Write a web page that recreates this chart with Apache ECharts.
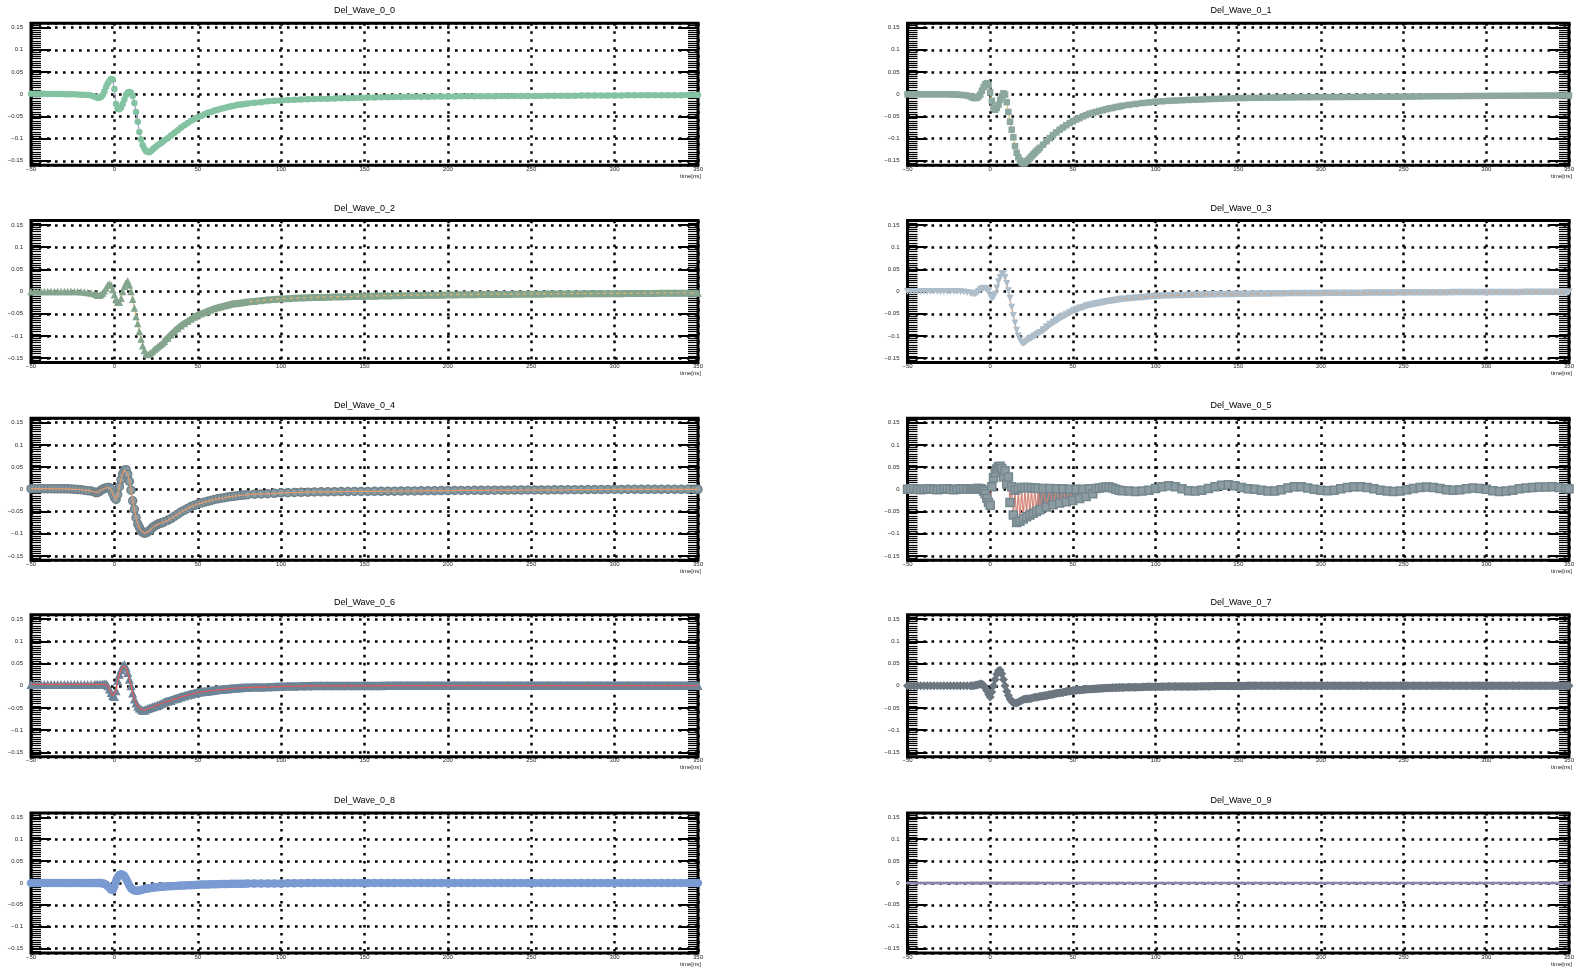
<!DOCTYPE html>
<html>
<head>
<meta charset="utf-8">
<title>Del_Wave_0</title>
<script src="https://cdn.jsdelivr.net/npm/echarts@6/dist/echarts.min.js"></script>
<style>
  html, body { margin: 0; padding: 0; background: #fff; }
  #chart { width: 1577px; height: 967px; }
</style>
</head>
<body>
<div id="chart"></div>
<script>
// ---------------------------------------------------------------------------
// Sample times [ns] shared by every waveform
// ---------------------------------------------------------------------------
const TIME = [
  -50,-48,-46,-44,-42,-40,-38,-36,-34,-32,-30,-28,-26,-24,-22,-20,-18,-16,-14,-12,
  -11,-10,-9,-8,-7,-6,-5,-4,-3,-2,-1,0,1,2,3,4,5,6,7,8,9,10,11,12,13,14,15,16,17,18,19,20,21,22,23,24,25,26,27,28,29,30,
  32,34,36,38,40,42,44,46,48,50,52,54,56,58,60,62,64,66,68,70,72,74,76,78,80,
  84,88,92,96,100,104,108,112,116,120,124,128,132,136,140,144,148,152,156,160,164,168,172,176,180,184,188,192,196,200,
  204,208,212,216,220,224,228,232,236,240,244,248,252,256,260,264,268,272,276,280,284,288,292,296,300,304,308,312,316,320,
  324,328,332,336,340,344,348,350
];

// Waveform amplitudes, one value per entry of TIME
const WAVE_0_0 = [
  0.001,0.001,0.001,0.001,0.001,0.0005,0.0005,0.0005,0.0005,0.0005,0,0,0,0,-0.0005,-0.001,-0.001,-0.002,-0.003,-0.005,
  -0.007,-0.008,-0.008,-0.006,-0.002,0.006,0.016,0.024,0.030,0.034,
  0.033,0.012,-0.022,-0.033,-0.034,-0.030,-0.022,-0.012,-0.002,0.004,
  0.005,0.003,-0.004,-0.020,-0.040,-0.062,-0.085,-0.102,-0.115,-0.123,
  -0.128,-0.130,-0.131,-0.128,-0.124,-0.121,-0.118,-0.115,-0.112,-0.110,
  -0.107,-0.104,
  -0.099,-0.093,-0.087,-0.081,-0.075,-0.070,-0.065,-0.060,-0.056,-0.052,
  -0.049,-0.045,-0.042,-0.040,-0.037,-0.035,-0.033,-0.031,-0.029,-0.027,
  -0.026,-0.024,-0.023,-0.022,-0.021,
  -0.019,-0.018,-0.016,-0.015,-0.014,-0.013,-0.0125,-0.012,-0.0115,-0.011,
  -0.0105,-0.010,-0.0097,-0.0093,-0.009,-0.0085,-0.008,-0.0076,-0.0072,-0.007,
  -0.0067,-0.0064,-0.0062,-0.006,-0.0058,-0.0056,-0.0055,-0.0053,-0.0052,-0.005,
  -0.005,-0.0049,-0.0048,-0.0047,-0.0046,-0.0045,-0.0044,-0.0043,-0.0042,-0.0041,
  -0.004,-0.004,-0.0039,-0.0038,-0.0037,-0.0036,-0.0035,-0.0034,-0.0033,-0.0032,
  -0.0031,-0.003,-0.003,-0.0029,-0.0028,-0.0027,-0.0026,-0.0025,-0.0024,-0.0023,
  -0.0023,-0.0022,-0.0022,-0.0021,-0.0021,-0.002,-0.002,-0.002
];

const WAVE_0_1 = [
  0,0,0,0,0,0,0,0,0,0,0,0,0,-0.0005,-0.0005,-0.001,-0.0015,-0.002,-0.003,-0.005,
  -0.007,-0.008,-0.009,-0.008,-0.005,-0.001,0.008,0.016,0.022,0.025,
  0.020,0.004,-0.015,-0.030,-0.035,-0.031,-0.024,-0.013,-0.005,0.002,
  -0.001,-0.018,-0.040,-0.062,-0.080,-0.097,-0.117,-0.132,-0.142,-0.149,
  -0.154,-0.156,-0.155,-0.151,-0.148,-0.144,-0.140,-0.136,-0.132,-0.128,
  -0.125,-0.121,
  -0.114,-0.106,-0.099,-0.092,-0.086,-0.080,-0.075,-0.070,-0.065,-0.061,
  -0.057,-0.054,-0.050,-0.047,-0.044,-0.042,-0.040,-0.038,-0.036,-0.034,
  -0.032,-0.031,-0.029,-0.028,-0.026,
  -0.024,-0.022,-0.020,-0.0185,-0.017,-0.016,-0.015,-0.0143,-0.0136,-0.013,
  -0.0124,-0.0118,-0.0112,-0.0106,-0.010,-0.0096,-0.0092,-0.0088,-0.0085,-0.0082,
  -0.008,-0.0078,-0.0076,-0.0074,-0.0072,-0.0071,-0.007,-0.0069,-0.0068,-0.0067,
  -0.0066,-0.0065,-0.0064,-0.0063,-0.0062,-0.0061,-0.006,-0.0059,-0.0058,-0.0057,
  -0.0056,-0.0055,-0.0054,-0.0052,-0.005,-0.0049,-0.0047,-0.0046,-0.0045,-0.0044,
  -0.0043,-0.0042,-0.004,-0.0039,-0.0038,-0.0037,-0.0036,-0.0035,-0.0034,-0.0033,
  -0.0032,-0.0032,-0.0031,-0.0031,-0.003,-0.003,-0.003,-0.003
];

const WAVE_0_2 = [
  0,0,0,0,0,0,0,0,0,0,0,0,0,0,0,-0.0005,-0.001,-0.002,-0.003,-0.004,
  -0.006,-0.008,-0.008,-0.006,-0.003,0.002,0.008,0.015,0.017,0.015,
  0.005,-0.007,-0.017,-0.024,-0.024,-0.015,0.000,0.012,0.020,0.024,
  0.015,0.000,-0.017,-0.037,-0.056,-0.072,-0.090,-0.107,-0.122,-0.133,
  -0.140,-0.142,-0.140,-0.137,-0.134,-0.130,-0.127,-0.124,-0.121,-0.118,
  -0.115,-0.112,
  -0.105,-0.097,-0.090,-0.083,-0.077,-0.072,-0.067,-0.062,-0.057,-0.053,
  -0.050,-0.047,-0.044,-0.041,-0.038,-0.036,-0.034,-0.032,-0.030,-0.028,
  -0.027,-0.026,-0.025,-0.024,-0.023,
  -0.0215,-0.020,-0.0185,-0.017,-0.016,-0.0153,-0.0146,-0.014,-0.0135,-0.013,
  -0.0126,-0.0122,-0.0118,-0.0114,-0.011,-0.0107,-0.0104,-0.0101,-0.0098,-0.0095,
  -0.0092,-0.009,-0.0087,-0.0085,-0.0082,-0.008,-0.0078,-0.0076,-0.0074,-0.0072,
  -0.007,-0.0068,-0.0066,-0.0064,-0.0062,-0.006,-0.0059,-0.0058,-0.0057,-0.0056,
  -0.0055,-0.0054,-0.0053,-0.0052,-0.0051,-0.005,-0.0049,-0.0048,-0.0047,-0.0046,
  -0.0045,-0.0044,-0.0043,-0.0042,-0.0041,-0.004,-0.0039,-0.0038,-0.0037,-0.0036,
  -0.0035,-0.0034,-0.0033,-0.0032,-0.0032,-0.0031,-0.003,-0.003
];

const WAVE_0_3 = [
  0,0,0,0,0,0,0,0,0,0,0,0,0,0,0,0,-0.0005,-0.001,-0.002,-0.003,
  -0.004,-0.005,-0.005,-0.003,0.000,0.004,0.006,0.0075,0.007,0.005,
  0.000,-0.010,-0.015,-0.013,-0.006,0.008,0.022,0.032,0.040,0.041,
  0.032,0.018,0.002,-0.015,-0.035,-0.054,-0.071,-0.087,-0.100,-0.109,
  -0.115,-0.117,-0.115,-0.112,-0.109,-0.107,-0.105,-0.102,-0.100,-0.0975,
  -0.095,-0.092,
  -0.086,-0.080,-0.0735,-0.069,-0.064,-0.059,-0.055,-0.051,-0.047,-0.043,
  -0.040,-0.037,-0.035,-0.032,-0.030,-0.0285,-0.027,-0.0255,-0.024,-0.0225,
  -0.021,-0.020,-0.019,-0.0175,-0.0165,
  -0.015,-0.0138,-0.0125,-0.0112,-0.010,-0.0095,-0.009,-0.0085,-0.008,-0.0075,
  -0.0072,-0.0069,-0.0066,-0.0063,-0.006,-0.0058,-0.0056,-0.0054,-0.0052,-0.005,
  -0.0048,-0.0046,-0.0044,-0.0042,-0.004,-0.0039,-0.0038,-0.0037,-0.0036,-0.0035,
  -0.0034,-0.0033,-0.0032,-0.0031,-0.003,-0.0029,-0.0028,-0.0027,-0.0026,-0.0025,
  -0.0024,-0.0023,-0.0022,-0.0021,-0.002,-0.002,-0.0019,-0.0018,-0.0018,-0.0017,
  -0.0016,-0.0016,-0.0015,-0.0015,-0.0014,-0.0014,-0.0013,-0.0013,-0.0012,-0.0012,
  -0.0011,-0.0011,-0.001,-0.001,-0.001,-0.001,-0.001,-0.001
];

const WAVE_0_4 = [
  0.0015,0.0015,0.0015,0.0015,0.0015,0.0015,0.0015,0.001,0.001,0.001,0.001,0.001,0.0005,0,-0.0005,-0.001,-0.002,-0.003,-0.004,-0.006,
  -0.0075,-0.007,-0.005,-0.002,0.000,0.002,0.003,0.004,0.004,0.000,
  -0.009,-0.018,-0.023,-0.012,0.006,0.022,0.035,0.043,0.044,0.034,
  0.018,-0.002,-0.026,-0.045,-0.064,-0.078,-0.086,-0.093,-0.097,-0.099,
  -0.098,-0.096,-0.093,-0.090,-0.086,-0.083,-0.081,-0.079,-0.077,-0.076,
  -0.075,-0.073,
  -0.070,-0.066,-0.061,-0.056,-0.051,-0.047,-0.043,-0.039,-0.036,-0.033,
  -0.031,-0.029,-0.027,-0.025,-0.023,-0.0215,-0.020,-0.019,-0.0175,-0.0165,
  -0.0155,-0.0145,-0.0135,-0.0128,-0.012,
  -0.011,-0.0104,-0.0098,-0.009,-0.008,-0.0076,-0.0072,-0.0068,-0.0064,-0.006,
  -0.0058,-0.0056,-0.0054,-0.0052,-0.005,-0.0049,-0.0048,-0.0047,-0.0046,-0.0045,
  -0.0044,-0.0042,-0.004,-0.0038,-0.0036,-0.0034,-0.0032,-0.003,-0.0029,-0.0028,
  -0.0027,-0.0026,-0.0025,-0.0024,-0.0023,-0.0022,-0.0021,-0.002,-0.0019,-0.0018,
  -0.0017,-0.0016,-0.0015,-0.0014,-0.0013,-0.0012,-0.0011,-0.001,-0.0009,-0.0008,
  -0.0007,-0.0006,-0.0005,-0.0004,-0.0003,-0.0002,-0.0001,0,0,0,
  0,0,0,0,0,0,0,0
];

const WAVE_0_5 = [
  0,0.001,0.001,0,-0.001,0,0.001,0.001,0,-0.001,0,0.001,0.001,0,-0.001,0,0.001,0.001,0.001,0,
  0.000,0.001,0.001,0.002,0.002,0.001,0.000,-0.004,-0.010,-0.020,
  -0.030,-0.036,0.006,0.026,0.038,0.046,0.051,0.052,0.047,0.028,
  0.042,0.012,0.028,-0.030,0.006,-0.058,-0.002,-0.075,0.002,-0.072,
  0.004,-0.067,0.004,-0.062,0.004,-0.058,0.003,-0.054,0.003,-0.050,
  0.002,-0.046,
  0.002,-0.040,0.002,-0.035,0.001,-0.031,0.001,-0.028,0.000,-0.025,
  0.000,-0.021,0.000,-0.016,0.001,-0.010,0.002,0.003,0.004,0.005,
  0.005,0.003,0.000,-0.002,-0.003,
  -0.004,-0.005,-0.004,-0.002,0.002,0.006,0.008,0.006,0.001,-0.003,
  -0.004,-0.002,0.002,0.006,0.009,0.010,0.008,0.004,0.001,0.000,
  -0.002,-0.004,-0.004,-0.001,0.003,0.006,0.006,0.003,0.000,-0.002,
  -0.003,-0.002,0.001,0.004,0.006,0.006,0.004,0.001,-0.002,-0.004,
  -0.005,-0.004,-0.001,0.002,0.004,0.005,0.004,0.002,-0.001,-0.002,
  -0.001,0.001,0.003,0.002,0.000,-0.003,-0.005,-0.004,-0.002,0.001,
  0.003,0.004,0.005,0.005,0.006,0.004,0.002,0.001
];

const WAVE_0_6 = [
  0.003,0.003,0.003,0.003,0.003,0.003,0.003,0.003,0.003,0.003,0.003,0.003,0.003,0.003,0.003,0.003,0.003,0.003,0.003,0.003,
  0.003,0.003,0.003,0.003,0.004,0.004,0.004,0.000,-0.007,-0.015,
  -0.022,-0.024,-0.011,0.012,0.026,0.036,0.044,0.048,0.042,0.030,
  0.015,0.000,-0.016,-0.030,-0.039,-0.046,-0.050,-0.053,-0.055,-0.055,
  -0.053,-0.051,-0.050,-0.049,-0.047,-0.046,-0.045,-0.043,-0.042,-0.040,
  -0.039,-0.037,
  -0.035,-0.033,-0.030,-0.028,-0.025,-0.023,-0.021,-0.019,-0.017,-0.015,
  -0.014,-0.013,-0.012,-0.011,-0.010,-0.009,-0.0085,-0.008,-0.007,-0.006,
  -0.0055,-0.005,-0.0045,-0.004,-0.004,
  -0.0035,-0.003,-0.0027,-0.0022,-0.0015,-0.0012,-0.001,-0.0007,-0.0003,0,
  0,0,0,0,0,0,0,0,0,0,
  0.0005,0.0005,0.0005,0.0005,0.0005,0.0005,0.0005,0.0005,0.0005,0.0005,
  0.0005,0.0005,0.0005,0.0005,0.0005,0.0005,0.0005,0.0005,0.0005,0.0005,
  0.0005,0.0005,0.0005,0.0005,0.0005,0.0005,0.0005,0.0005,0.0005,0.0005,
  0.0005,0.0005,0.0005,0.0005,0.0005,0.0005,0.0005,0.0005,0.0005,0.0005,
  0.0005,0.0005,0.0005,0.0005,0.0005,0.0005,0.0005,0.0005
];

const WAVE_0_7 = [
  0,0,0,0,0,0,0,0,0,0,0,0,0,0,0,0,0,0,0,0,
  0,0,0.001,0.002,0.003,0.004,0.004,0.001,-0.005,-0.011,
  -0.019,-0.025,-0.014,0.000,0.014,0.026,0.034,0.035,0.027,0.014,
  0.000,-0.012,-0.022,-0.030,-0.035,-0.038,-0.039,-0.039,-0.037,-0.035,
  -0.033,-0.031,-0.030,-0.030,-0.029,-0.029,-0.028,-0.027,-0.026,-0.026,
  -0.025,-0.024,
  -0.023,-0.022,-0.020,-0.019,-0.017,-0.016,-0.015,-0.013,-0.012,-0.011,
  -0.010,-0.0095,-0.009,-0.008,-0.0075,-0.007,-0.0065,-0.006,-0.0055,-0.005,
  -0.0048,-0.0045,-0.0042,-0.004,-0.004,
  -0.0035,-0.003,-0.0027,-0.0023,-0.002,-0.0019,-0.0018,-0.0017,-0.0016,-0.0015,
  -0.0013,-0.0011,-0.0009,-0.0007,-0.0005,-0.0004,-0.0003,-0.0002,-0.0001,0,
  0,0,0,0,0,0,0,0,0,0,
  0,0,0,0,0,0,0,0,0,0,
  0,0,0,0,0,0,0,0,0,0,
  0,0,0,0,0,0,0,0,0,0,
  0,0,0,0,0,0,0,0
];

const WAVE_0_8 = [
  0,0,0,0,0,0,0,0,0,0,0,0,0,0,0,0,0,0,0,0,
  0,0,0,0,-0.001,-0.002,-0.004,-0.007,-0.011,-0.015,
  -0.016,-0.008,0.004,0.013,0.018,0.020,0.019,0.016,0.009,0.002,
  -0.006,-0.012,-0.015,-0.017,-0.018,-0.018,-0.017,-0.016,-0.015,-0.014,
  -0.013,-0.012,-0.012,-0.011,-0.011,-0.010,-0.010,-0.0095,-0.009,-0.0088,
  -0.0085,-0.008,
  -0.0078,-0.0075,-0.007,-0.0065,-0.006,-0.0057,-0.0053,-0.005,-0.0045,-0.004,
  -0.0038,-0.0036,-0.0034,-0.0032,-0.003,-0.0028,-0.0026,-0.0024,-0.0022,-0.002,
  -0.0019,-0.0018,-0.0017,-0.0016,-0.0015,
  -0.0014,-0.0013,-0.0012,-0.0011,-0.001,-0.0008,-0.0006,-0.0004,-0.0002,0,
  0,0,0,0,0,0,0,0,0,0,
  0,0,0,0,0,0,0,0,0,0,
  0,0,0,0,0,0,0,0,0,0,
  0,0,0,0,0,0,0,0,0,0,
  0,0,0,0,0,0,0,0,0,0,
  0,0,0,0,0,0,0,0
];

const WAVE_0_9 = [
  0,0,0,0,0,0,0,0,0,0,0,0,0,0,0,0,0,0,0,0,
  0,0,0,0,0,0,0,0,0,0,0,0,0,0,0,0,0,0,0,0,0,0,0,0,0,0,0,0,0,0,0,0,0,0,0,0,0,0,0,0,0,0,
  0,0,0,0,0,0,0,0,0,0,0,0,0,0,0,0,0,0,0,0,0,0,0,0,0,
  0,0,0,0,0,0,0,0,0,0,0,0,0,0,0,0,0,0,0,0,0,0,0,0,0,0,0,0,0,0,0,0,0,0,
  0,0,0,0,0,0,0,0,0,0,0,0,0,0,0,0,0,0,0,0,0,0,0,0,0,0,0,0,0,0,0,0,0,0,0,0,0,0
];

const PANEL_TITLES = [
  'Del_Wave_0_0', 'Del_Wave_0_1', 'Del_Wave_0_2', 'Del_Wave_0_3', 'Del_Wave_0_4',
  'Del_Wave_0_5', 'Del_Wave_0_6', 'Del_Wave_0_7', 'Del_Wave_0_8', 'Del_Wave_0_9'
];
const PANEL_WAVES = [
  WAVE_0_0, WAVE_0_1, WAVE_0_2, WAVE_0_3, WAVE_0_4,
  WAVE_0_5, WAVE_0_6, WAVE_0_7, WAVE_0_8, WAVE_0_9
];

// Axis ranges
const X_MIN = -50, X_MAX = 350, X_STEP = 50;
const Y_MIN = -0.16, Y_MAX = 0.16, Y_MINOR = 0.005;
const X_NAME = 'time[ns]';

// ---------------------------------------------------------------------------
// Layout and appearance
// ---------------------------------------------------------------------------
const COL_LEFT = [31, 907.5];
const ROW_TOP = [23.2, 220.6, 418.3, 614.8, 812.9];
const GRID_W = 667, GRID_H = 142;
const FONT = '"Liberation Sans", Arial, Helvetica, sans-serif';
// beyond this time the markers sit on a solid band of the same colour
const BAND_FROM = 30;

// marker / line look of each pad
const LOOK = [
  { symbol: 'circle',   size: 6.5, fill: '#83c3a2', line: '#a4a0c6' },
  { symbol: 'rect',     size: 6.5, fill: '#8ba79f', line: '#dcc67a' },
  { symbol: 'triangle', size: 7.5, fill: '#84a58d', line: '#f0b46e' },
  { symbol: 'triangle', size: 7,   fill: '#adbdc9', line: '#d6a27e', rotate: 180 },
  { symbol: 'circle',   size: 8,   fill: '#8a9ca4', border: '#6f818a', borderWidth: 1.5, line: '#e59a6a', lineOnTop: true },
  { symbol: 'rect',     size: 8,   fill: '#8d9ca3', border: '#75878f', borderWidth: 1.5, line: '#d4867a' },
  { symbol: 'triangle', size: 9,   fill: '#6b8497', line: '#e25a5a', lineOnTop: true },
  { symbol: 'diamond',  size: 9,   fill: '#6b7680', line: '#7d6f7a' },
  { symbol: 'circle',   size: 8.5, fill: '#7a9ad2', line: '#6a8ac8' },
  { symbol: 'circle',   size: 3,   fill: '#8a88aa', line: '#8a88aa', lineWidth: 2.5, noBand: true }
];

const DOTTED = { color: '#000', width: 2.5, type: [2.6, 5.4] };
const LABEL_COLOR = '#262626';

function fmtY(v) {
  const k = Math.round(v / 0.05);
  if (Math.abs(v - k * 0.05) > 1e-6) return '';
  if (k === 0) return '0';
  const s = (Math.abs(k) * 0.05).toFixed(2).replace(/0$/, '');
  return (k < 0 ? '\u2212' : '') + s;
}
function fmtX(v) {
  return v < 0 ? '\u2212' + Math.abs(v) : String(v);
}

const grids = [], xAxes = [], yAxes = [], titles = [], series = [];

PANEL_TITLES.forEach((name, i) => {
  const r = Math.floor(i / 2), c = i % 2;
  const left = COL_LEFT[c], top = ROW_TOP[r];

  grids.push({
    left: left, top: top, width: GRID_W, height: GRID_H,
    show: true, borderColor: '#000', borderWidth: 3, backgroundColor: 'rgba(0,0,0,0)'
  });

  titles.push({
    text: name, left: left + GRID_W / 2, top: top - 17, textAlign: 'center', padding: 0,
    textStyle: { fontFamily: FONT, fontSize: 9, fontWeight: 'normal', color: '#000' }
  });

  xAxes.push({
    type: 'value', gridIndex: i, position: 'bottom', min: X_MIN, max: X_MAX, interval: X_STEP,
    axisLine: { show: false, onZero: false }, axisTick: { show: false },
    axisLabel: { fontFamily: FONT, fontSize: 6, color: LABEL_COLOR, margin: 1, formatter: fmtX },
    splitLine: { show: true, lineStyle: DOTTED },
    name: X_NAME, nameLocation: 'end', nameGap: 3,
    nameTextStyle: { fontFamily: FONT, fontSize: 6, color: LABEL_COLOR, align: 'right', verticalAlign: 'top', padding: [8, 0, 0, 0] }
  });

  const yBase = {
    type: 'value', gridIndex: i, min: Y_MIN, max: Y_MAX,
    axisLine: { show: false, onZero: false }, axisLabel: { show: false }, splitLine: { show: false }
  };
  // left: major ticks, labels and dotted grid
  yAxes.push(Object.assign({}, yBase, {
    position: 'left', splitNumber: 6,
    axisTick: { show: true, inside: true, length: 20, lineStyle: { color: '#000', width: 2 } },
    axisLabel: { show: true, fontFamily: FONT, fontSize: 6, color: LABEL_COLOR, margin: 8, formatter: fmtY },
    splitLine: { show: true, lineStyle: DOTTED }
  }));
  // left: fine ticks
  yAxes.push(Object.assign({}, yBase, {
    position: 'left', interval: Y_MINOR,
    axisTick: { show: true, inside: true, length: 10, lineStyle: { color: '#000', width: 1.2 } }
  }));
  // right: major ticks
  yAxes.push(Object.assign({}, yBase, {
    position: 'right', splitNumber: 6,
    axisTick: { show: true, inside: true, length: 20, lineStyle: { color: '#000', width: 2 } }
  }));
  // right: fine ticks
  yAxes.push(Object.assign({}, yBase, {
    position: 'right', interval: Y_MINOR,
    axisTick: { show: true, inside: true, length: 10, lineStyle: { color: '#000', width: 1.2 } }
  }));

  const look = LOOK[i];
  const wave = PANEL_WAVES[i];
  const pts = TIME.map((t, k) => [t, wave[k]]);

  // solid band under the densely packed markers of the slow tail
  if (!look.noBand) {
    series.push({
      name: name + ' band', type: 'line', xAxisIndex: i, yAxisIndex: 4 * i,
      data: pts.filter(p => p[0] >= BAND_FROM),
      symbol: 'none', clip: true,
      lineStyle: { color: look.border || look.fill, width: look.size - 1 },
      emphasis: { disabled: true }, silent: true, animation: false, z: 2
    });
  }

  series.push({
    name: name, type: 'line', xAxisIndex: i, yAxisIndex: 4 * i, data: pts,
    symbol: look.symbol, symbolSize: look.size, symbolRotate: look.rotate || 0,
    showSymbol: true, showAllSymbol: true, clip: true,
    itemStyle: { color: look.fill, borderColor: look.border || look.fill, borderWidth: look.borderWidth || 0 },
    lineStyle: { color: look.line, width: look.lineWidth || 1.2 },
    emphasis: { disabled: true }, silent: true, animation: false, z: 3
  });
  if (look.lineOnTop) {
    series.push({
      name: name + ' line', type: 'line', xAxisIndex: i, yAxisIndex: 4 * i, data: pts,
      symbol: 'none', clip: true,
      lineStyle: { color: look.line, width: 1.2 },
      emphasis: { disabled: true }, silent: true, animation: false, z: 4
    });
  }
});

const chart = echarts.init(document.getElementById('chart'), null, { renderer: 'canvas' });
chart.setOption({
  backgroundColor: '#fff',
  animation: false,
  textStyle: { fontFamily: FONT },
  title: titles,
  grid: grids,
  xAxis: xAxes,
  yAxis: yAxes,
  series: series
});
</script>
</body>
</html>
